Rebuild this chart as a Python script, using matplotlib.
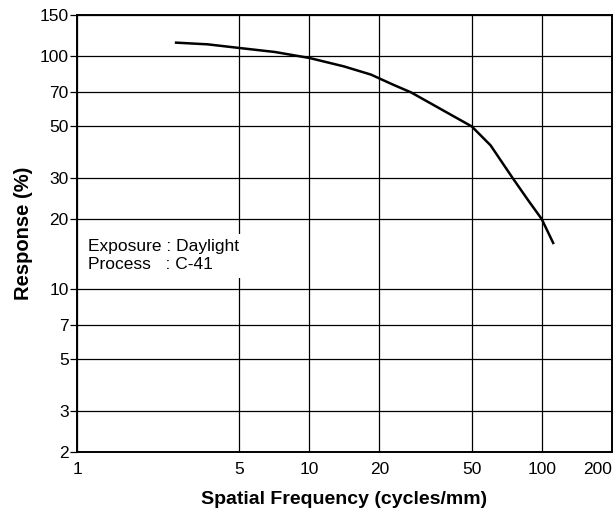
import matplotlib
matplotlib.use("Agg")
import matplotlib.pyplot as plt
from matplotlib.ticker import FixedLocator, FixedFormatter, NullLocator

plt.rcParams['font.family'] = ['Liberation Sans', 'DejaVu Sans']

# curve (cycles/mm, response %)
freq = [2.67, 3.65, 5, 7.1, 10, 14.1, 18.4, 22.9, 27.4, 38.1, 50, 60.2, 75, 87.4, 100, 112]
resp = [114.5, 112.6, 108.6, 104.4, 98.4, 90.5, 83.5, 75.6, 70, 58.2, 50, 41.5, 30, 24.1, 20, 15.8]

x_ticks = [1, 5, 10, 20, 50, 100, 200]
y_ticks = [2, 3, 5, 7, 10, 20, 30, 50, 70, 100, 150]

fig = plt.figure(figsize=(6.16, 5.11), dpi=100)
ax = fig.add_axes([0.125, 0.1155, 0.868, 0.8545])

ax.set_xscale('log')
ax.set_yscale('log')
ax.set_xlim(1, 200)
ax.set_ylim(2, 150)

ax.xaxis.set_major_locator(FixedLocator(x_ticks))
ax.xaxis.set_major_formatter(FixedFormatter([str(v) for v in x_ticks]))
ax.xaxis.set_minor_locator(NullLocator())
ax.yaxis.set_major_locator(FixedLocator(y_ticks))
ax.yaxis.set_major_formatter(FixedFormatter([str(v) for v in y_ticks]))
ax.yaxis.set_minor_locator(NullLocator())

ax.grid(True, color='black', linewidth=0.9)
ax.tick_params(axis='x', length=0, labelsize=12.5, pad=7)
ax.tick_params(axis='y', length=5, width=0.9, labelsize=12.5, pad=1)
ax.get_xticklabels()[-1].set_horizontalalignment('right')
for s in ax.spines.values():
    s.set_linewidth(1.4)

ax.plot(freq, resp, color='black', linewidth=1.8)

ax.text(1.115, 13.9, "Exposure : Daylight\nProcess   : C-41", fontsize=12.5,
        va='center', ha='left', linespacing=1.25,
        bbox=dict(facecolor='white', edgecolor='none', pad=4), zorder=5)

ax.set_xlabel("Spatial Frequency (cycles/mm)", fontsize=14, fontweight='bold', labelpad=10)
ax.set_ylabel("Response (%)", fontsize=14.5, fontweight='bold', labelpad=5)

fig.savefig("out.png", dpi=100)
